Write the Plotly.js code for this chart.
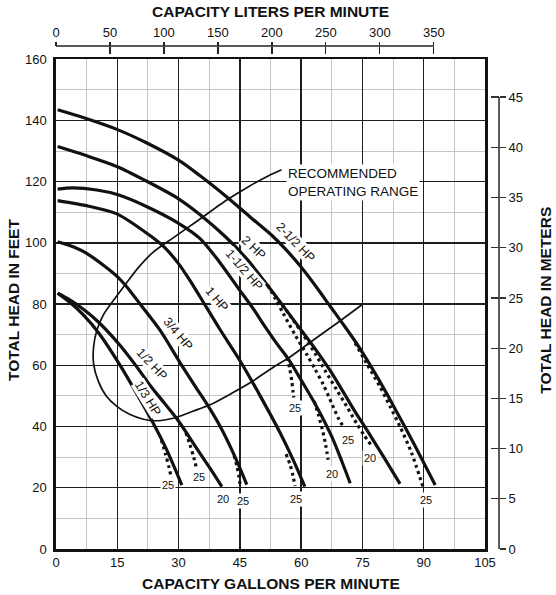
<!DOCTYPE html>
<html><head><meta charset="utf-8">
<script src="https://cdn.plot.ly/plotly-3.0.1.min.js"></script>
<style>html,body{margin:0;padding:0;background:#fff}</style>
</head><body>
<div id="chart" style="width:556px;height:595px"></div>
<script>
// ---------- axis ticks ----------
const gpmTicks = [0, 15, 30, 45, 60, 75, 90, 105];
const feetTicks = [0, 20, 40, 60, 80, 100, 120, 140, 160];
const literTicks = [0, 50, 100, 150, 200, 250, 300, 350];
const meterTicks = [0, 5, 10, 15, 20, 25, 30, 35, 40, 45];
const litersPerGallon = 3.78541;
const metersPerFoot = 0.3048;

// ---------- pump curves (gpm, feet) ----------
const hp25Q = [0.4, 7, 14.9, 22, 29.9, 35.2, 41.8, 47.5, 52.8, 56, 59.7, 63.5, 67.1, 70.3, 73.5, 76.8, 80.9, 83.5, 85.8, 89.5, 92.8];
const hp25H = [143.5, 140.8, 137.1, 132.8, 127.1, 122, 115, 108.5, 102.5, 98.2, 92.6, 86, 79.3, 73.4, 67.3, 60.3, 50.9, 44.5, 38.9, 29.5, 20.9];
const hp25Dot25Q = [73.2, 76.3, 79.3, 81.8, 84.2, 87, 89.8];
const hp25Dot25H = [67.3, 60, 53, 46.5, 40, 31.5, 20.4];

const hp2Q = [0.4, 7, 14.9, 22, 29.9, 35.2, 41.8, 47, 51, 55, 59, 63, 67, 70, 73, 76.5, 80, 84.2];
const hp2H = [131.5, 128.7, 125, 120.3, 114.5, 109.3, 101.6, 94.3, 87.5, 80.5, 73.3, 66.2, 58.5, 52, 45.3, 38, 30.5, 21.3];
const hp2Dot25Q = [51.8, 53.8, 55.6, 58.5, 61.4, 63.5, 65.4, 67.5, 69.2, 70.4];
const hp2Dot25H = [86.2, 81.5, 77, 70, 63.5, 58.5, 53.8, 47.5, 42.5, 39.8];
const hp2Dot20Q = [55.3, 57.8, 60.6, 63.35, 66, 68.7, 71.2, 73.6, 75.5, 77];
const hp2Dot20H = [79.8, 75.3, 69.8, 64, 58, 52, 46.5, 41, 37, 34.2];

const hp15Q = [0.4, 4, 10, 15, 22, 29.9, 35.2, 40, 45, 48, 51.2, 54, 57, 60, 63.8, 67.5, 70, 72];
const hp15H = [117.6, 118, 117.3, 115.8, 112, 106.5, 101.5, 93.8, 84.5, 79, 72.6, 67.2, 61.8, 55.2, 46.5, 36.7, 28.5, 21.5];
const hp15Dot25Q = [56.6, 57.2, 57.7, 58, 58.2];
const hp15Dot25H = [62.5, 59, 55, 51.5, 49.5];
const hp15Dot20Q = [63.2, 64.2, 65.2, 66, 66.6];
const hp15Dot20H = [48.3, 44, 39, 34, 29.2];

const hp1Q = [0.4, 8, 14.9, 23, 26.5, 29.9, 32.5, 35.2, 40.1, 45, 49.9, 55, 58, 60.9];
const hp1H = [113.8, 112, 109.5, 102.4, 98.6, 93.4, 88.3, 82.5, 71.8, 61.6, 50.2, 37.6, 29.3, 20.4];
const hp1Dot25Q = [56.3, 57.3, 58, 58.5];
const hp1Dot25H = [31, 27.5, 24, 20.6];

const hp34Q = [0.4, 4.5, 7.5, 12, 15, 17.3, 21, 25.5, 30.3, 34, 37.3, 40, 42.6, 44.7, 46.7];
const hp34H = [100.4, 98.6, 96.6, 92.3, 89, 85.7, 79.3, 71.4, 61, 53.3, 46.6, 40.5, 33.6, 27.4, 21];
const hp34Dot25Q = [43.6, 44.3, 44.8, 45.1];
const hp34Dot25H = [30.5, 27, 23.5, 20.6];

const hp12Q = [0.4, 3, 6.7, 10.5, 15.7, 19.5, 23, 26.5, 29.9, 32.5, 35.2, 38, 40.6];
const hp12H = [83.6, 81.7, 78.3, 74, 66.5, 60, 53.5, 47.7, 42, 36.8, 31.3, 25.8, 20.4];
const hp12Dot25Q = [31.8, 32.8, 33.7, 34.4];
const hp12Dot25H = [38, 34, 30, 26.3];

const hp13Q = [0.4, 3, 6.7, 10.5, 15.7, 19.7, 23.8, 27.1, 30.8];
const hp13H = [83.6, 81, 76.5, 70.5, 60, 50.9, 41.1, 32.4, 20.9];
const hp13Dot25Q = [25.8, 26.8, 27.7, 28.4, 28.6];
const hp13Dot25H = [35.6, 31, 26.5, 22, 20.8];

// recommended operating range outline
const rangeQ = [55.2, 52.4, 47, 41.8, 34.4, 28.5, 23.8, 20.2, 17.3, 14.5, 11.6, 10, 9.2, 9.2, 10.3, 12.3, 14.9, 18, 21.4, 24.5, 27.5, 29.9, 33.5, 37.7, 42.5, 47.5, 53.2, 57, 63, 69, 74.8];
const rangeH = [123.9, 122.2, 118.3, 114, 107, 101.5, 97, 92, 87, 82, 76.5, 71.5, 66, 60.5, 55, 50, 46.6, 44, 42.4, 41.9, 42.4, 43.2, 45, 47.1, 50.5, 54.3, 59.4, 62.5, 68.3, 74, 79.7];

// curve labels
const hpLabels = ['2-1/2 HP', '2 HP', '1-1/2 HP', '1 HP', '3/4 HP', '1/2 HP', '1/3 HP'];
const hpLabelQ = [58.5, 48.5, 46, 39.3, 29.9, 23.4, 22.4];
const hpLabelH = [100.3, 98.5, 91, 81.7, 70.3, 60.5, 49.4];
const hpLabelAngle = [46, 44, 49, 50, 50, 47, 58];

// suction-lift labels at ends of curves
const liftLabels = ['25', '25', '20', '25', '25', '25', '20', '25', '20', '25'];
const liftQ = [27.3, 34.95, 40.9, 45.8, 58.7, 58.5, 67.6, 71.5, 76.8, 90.5];
const liftH = [20.75, 23.5, 16.4, 15.75, 16.3, 46.2, 24.4, 35.5, 29.6, 16];

// ---------- build ----------
const ink = '#111';
function solid(q, h) {
  return {x: q, y: h, type: 'scatter', mode: 'lines', hoverinfo: 'skip',
    line: {color: ink, width: 3.2, shape: 'spline', smoothing: 0.8}};
}
function dotted(q, h) {
  return {x: q, y: h, type: 'scatter', mode: 'lines', hoverinfo: 'skip',
    line: {color: ink, width: 3.2, dash: '3px,3.5px', shape: 'spline', smoothing: 0.8}};
}
// empty traces so the secondary (liters / meters) axes get drawn
function axisHolder(xa, ya) {
  return {x: [], y: [], type: 'scatter', mode: 'lines', xaxis: xa, yaxis: ya, hoverinfo: 'skip', showlegend: false};
}
const traces = [
  {x: rangeQ, y: rangeH, type: 'scatter', mode: 'lines', hoverinfo: 'skip',
   line: {color: ink, width: 1.7, shape: 'spline', smoothing: 0.7}},
  solid(hp25Q, hp25H), dotted(hp25Dot25Q, hp25Dot25H),
  solid(hp2Q, hp2H), dotted(hp2Dot25Q, hp2Dot25H), dotted(hp2Dot20Q, hp2Dot20H),
  solid(hp15Q, hp15H), dotted(hp15Dot25Q, hp15Dot25H), dotted(hp15Dot20Q, hp15Dot20H),
  solid(hp1Q, hp1H), dotted(hp1Dot25Q, hp1Dot25H),
  solid(hp34Q, hp34H), dotted(hp34Dot25Q, hp34Dot25H),
  solid(hp12Q, hp12H), dotted(hp12Dot25Q, hp12Dot25H),
  solid(hp13Q, hp13H), dotted(hp13Dot25Q, hp13Dot25H),
  axisHolder('x2', 'y'), axisHolder('x3', 'y'), axisHolder('x', 'y2'), axisHolder('x', 'y3')
];

const font = 'Liberation Sans, Arial, Helvetica, sans-serif';
const xDomEnd = 0.9684, yDomEnd = 0.9736;
const gpmMax = 105, feetMax = 160;
const literMax = gpmMax * litersPerGallon;
const meterMax = feetMax * metersPerFoot;

const annotations = [];
hpLabels.forEach((t, i) => annotations.push({
  x: hpLabelQ[i], y: hpLabelH[i], xref: 'x', yref: 'y', text: t, showarrow: false,
  textangle: hpLabelAngle[i], font: {family: font, size: 12.5, color: ink},
  bgcolor: 'white', borderpad: 0
}));
liftLabels.forEach((t, i) => annotations.push({
  x: liftQ[i], y: liftH[i], xref: 'x', yref: 'y', text: t, showarrow: false,
  font: {family: font, size: 11, color: ink}, bgcolor: 'white', borderpad: 1
}));
annotations.push({
  x: 56.3, y: 119.9, xref: 'x', yref: 'y', xanchor: 'left', yanchor: 'middle', align: 'left',
  text: 'RECOMMENDED<br>OPERATING RANGE', showarrow: false,
  font: {family: font, size: 13.5, color: ink}, bgcolor: 'white', borderpad: 1
});
// axis titles
const titleFont = {family: font, size: 15.5, color: ink};
annotations.push({xref: 'paper', yref: 'paper', x: 0.4842, y: -0.0676, text: '<b>CAPACITY GALLONS PER MINUTE</b>', showarrow: false, font: titleFont, xanchor: 'center', yanchor: 'middle'});
annotations.push({xref: 'paper', yref: 'paper', x: 0.4842, y: 1.0676, text: '<b>CAPACITY LITERS PER MINUTE</b>', showarrow: false, font: titleFont, xanchor: 'center', yanchor: 'middle'});
annotations.push({xref: 'paper', yref: 'paper', x: -0.0971, y: 0.495, text: '<b>TOTAL HEAD IN FEET</b>', showarrow: false, font: titleFont, textangle: -90, xanchor: 'center', yanchor: 'middle'});
annotations.push({xref: 'paper', yref: 'paper', x: 1.103, y: 0.495, text: '<b>TOTAL HEAD IN METERS</b>', showarrow: false, font: titleFont, textangle: -90, xanchor: 'center', yanchor: 'middle'});

// secondary axis lines, only as long as their tick span
const shapes = [
  {type: 'line', xref: 'x2', yref: 'paper', x0: literTicks[0], x1: literTicks[literTicks.length - 1], y0: 1, y1: 1,
   line: {color: '#222', width: 1.3}},
  {type: 'line', xref: 'paper', yref: 'y2', x0: 1, x1: 1, y0: meterTicks[0], y1: meterTicks[meterTicks.length - 1],
   line: {color: '#333', width: 1.6}}
];

const tickFont = {family: font, size: 13, color: ink};
const layout = {
  width: 556, height: 595,
  margin: {l: 56, r: 57, t: 46, b: 46, pad: 0},
  paper_bgcolor: 'white', plot_bgcolor: 'white',
  showlegend: false,
  xaxis: {
    domain: [0, xDomEnd], range: [0, gpmMax], tickmode: 'array', tickvals: gpmTicks,
    ticks: '', showgrid: true, gridcolor: '#1e1e1e', gridwidth: 1.3,
    minor: {tickmode: 'linear', tick0: 0, dtick: 7.5, showgrid: true, gridcolor: '#c6c6c6', gridwidth: 1},
    showline: true, linecolor: ink, linewidth: 2.6, mirror: true, zeroline: false,
    tickfont: tickFont, anchor: 'y'
  },
  yaxis: {
    domain: [0, yDomEnd], range: [0, feetMax], tickmode: 'array', tickvals: feetTicks,
    ticks: '', showgrid: true, gridcolor: '#1e1e1e', gridwidth: 1.3,
    minor: {tickmode: 'linear', tick0: 0, dtick: 10, showgrid: true, gridcolor: '#c6c6c6', gridwidth: 1},
    showline: true, linecolor: ink, linewidth: 2.6, mirror: true, zeroline: false,
    tickfont: tickFont, anchor: 'x', ticklabelstandoff: 4
  },
  xaxis2: {
    overlaying: 'x', anchor: 'free', position: 1, side: 'top',
    range: [0, literMax],
    tickmode: 'array', tickvals: literTicks, ticks: 'inside', ticklen: 7, tickwidth: 1.3, tickcolor: '#222',
    showline: false, showgrid: false, zeroline: false,
    tickfont: tickFont, ticklabelstandoff: 6
  },
  xaxis3: {
    overlaying: 'x', anchor: 'free', position: 1, side: 'top',
    range: [0, literMax],
    tickmode: 'array', tickvals: literTicks, ticks: 'outside', ticklen: 4, tickwidth: 1.3, tickcolor: '#222',
    showline: false, showgrid: false, zeroline: false, showticklabels: false
  },
  yaxis2: {
    overlaying: 'y', anchor: 'free', position: 1, side: 'right',
    range: [0, meterMax],
    tickmode: 'array', tickvals: meterTicks, ticks: 'outside', ticklen: 6, tickwidth: 1.3, tickcolor: '#333',
    showline: false, showgrid: false, zeroline: false,
    tickfont: tickFont
  },
  yaxis3: {
    overlaying: 'y', anchor: 'free', position: 1, side: 'right',
    range: [0, meterMax],
    tickmode: 'array', tickvals: meterTicks, ticks: 'inside', ticklen: 8, tickwidth: 1.3, tickcolor: '#333',
    showline: false, showgrid: false, zeroline: false, showticklabels: false
  },
  shapes: shapes,
  annotations: annotations
};

Plotly.newPlot('chart', traces, layout, {staticPlot: true, displayModeBar: false});
</script>
</body></html>
